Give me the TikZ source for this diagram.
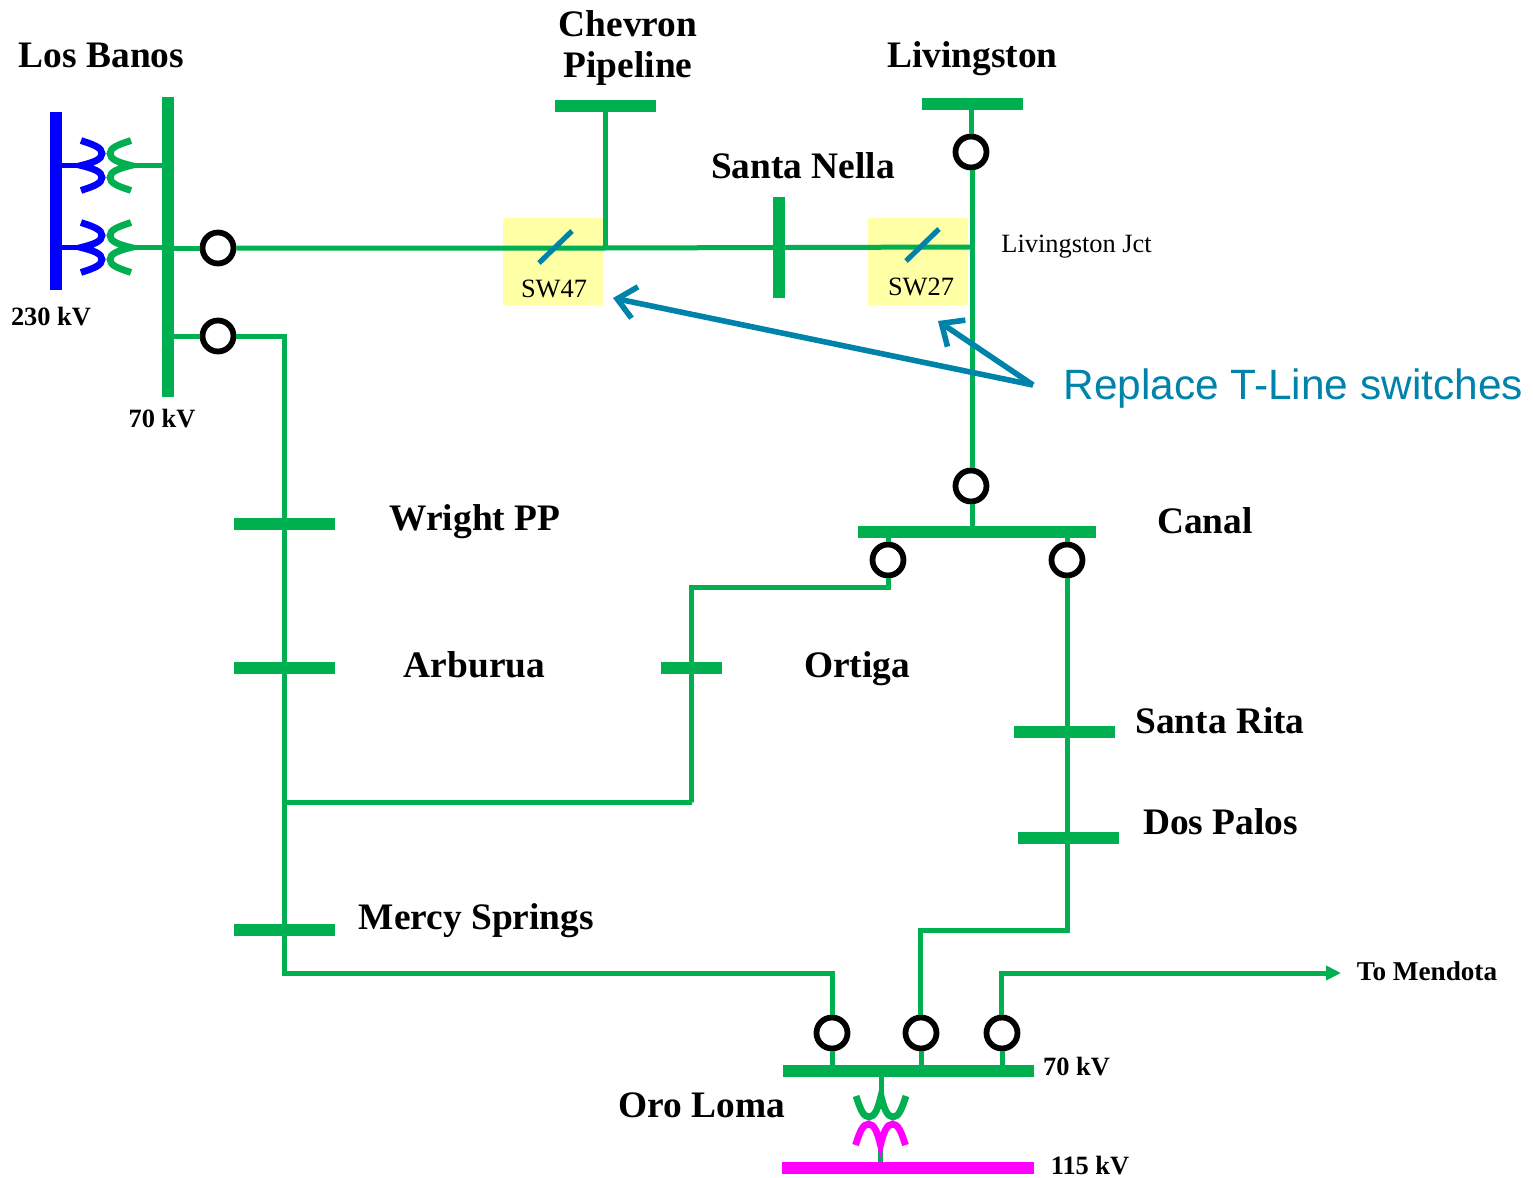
\documentclass[tikz,border=0pt]{standalone}
\usepackage{fontspec}
\setmainfont{Liberation Serif}
\newfontfamily\repfont{Liberation Sans}
\usetikzlibrary{arrows.meta}
\definecolor{gr}{HTML}{00B050}
\definecolor{bl}{HTML}{0000FF}
\definecolor{mg}{HTML}{FF00FF}
\definecolor{yl}{HTML}{FFFFA5}
\definecolor{tl}{HTML}{0083AB}
\tikzset{
  busbar/.style={fill=#1,inner sep=0pt,outer sep=0pt},
  hbus/.style={busbar=gr,minimum width=50.5pt,minimum height=6pt},
  vbus/.style={busbar=#1,minimum width=6pt},
  swc/.style={circle,draw=black,fill=white,line width=2.9pt,minimum size=15.5pt,inner sep=0pt},
  conn/.style={draw=gr,line width=2.5pt,line join=miter},
  place/.style={font=\fontsize{18.7pt}{20.5pt}\selectfont\bfseries,align=center,inner sep=0pt},
  volt/.style={font=\fontsize{13.2pt}{15pt}\selectfont\bfseries,inner sep=0pt},
  small/.style={font=\fontsize{13.2pt}{15pt}\selectfont,inner sep=0pt},
  yellowbox/.style={fill=yl,inner sep=0pt,minimum width=50pt,minimum height=43.5pt},
  slash/.style={draw=tl,line width=2.6pt},
  callout/.style={draw=tl,line width=2.8pt,-{Straight Barb[length=9pt,width=16pt,line width=2.8pt]}},
  winding/.pic={
    \draw[line width=3.4pt] (-21,-25) .. controls (-9,-21) and (0,-18) .. (0,-12)
      .. controls (0,-6) and (-9,-3) .. (-21,0)
      .. controls (-9,3) and (0,6) .. (0,12)
      .. controls (0,18) and (-9,21) .. (-21,25);
  }
}
\begin{document}
\begin{tikzpicture}[x=0.5pt,y=-0.5pt]
\useasboundingbox (0,0) rectangle (1533,1178);
% highlight boxes
\node[yellowbox] (y47) at (553,261.5) {};
\node[yellowbox] (y27) at (918,261.5) {};
% buses
\node[vbus=bl,minimum height=89pt] (b230) at (56,201) {};
\node[vbus=gr,minimum height=150pt] (b70) at (168,247) {};
\node[hbus] (chev) at (605.5,106) {};
\node[hbus] (liv) at (972,104) {};
\node[vbus=gr,minimum height=50.5pt] (nella) at (779,247.5) {};
\node[hbus,minimum width=119pt] (canal) at (977,532) {};
\node[hbus] (wright) at (284.5,524) {};
\node[hbus] (arb) at (284.5,668) {};
\node[hbus] (mercy) at (284.5,930) {};
\node[hbus,minimum width=30.5pt] (ortiga) at (691.5,668) {};
\node[hbus] (rita) at (1064.5,732) {};
\node[hbus] (dos) at (1068.5,838) {};
\node[hbus,minimum width=125.5pt] (oro) at (908.5,1071) {};
\node[busbar=mg,minimum width=126pt,minimum height=6pt] (b115) at (908,1168) {};
% switches
\node[swc] (c1) at (218,248) {};
\node[swc] (c2) at (218,336) {};
\node[swc] (c3) at (971,152) {};
\node[swc] (c4) at (971,486) {};
\node[swc] (c5) at (888,560) {};
\node[swc] (c6) at (1067,560) {};
\node[swc] (c7) at (832,1033) {};
\node[swc] (c8) at (921,1033) {};
\node[swc] (c9) at (1002,1033) {};
% junctions
\coordinate (jchev) at (605,248);
\coordinate (jliv) at (972,247);
\coordinate (jlb) at (284,336);
\coordinate (jort) at (691,587);
\coordinate (jmid) at (692,802);
\coordinate (jmidl) at (284,802);
\coordinate (jbot) at (284,973);
\coordinate (jbotr) at (832,973);
\coordinate (jr) at (1067,930);
\coordinate (jrl) at (920,930);
\coordinate (jm) at (1001,973);
\coordinate (mend) at (1341,973);
% Los Banos transformers
\coordinate (tb1) at (84,165.5);
\coordinate (tg1) at (130,165.5);
\coordinate (tb2) at (84,247.5);
\coordinate (tg2) at (130,247.5);
\draw[draw=bl,line width=2.8pt] (b230.east |- tb1) -- (tb1);
\draw[draw=bl,line width=2.8pt] (b230.east |- tb2) -- (tb2);
\draw[conn,line width=2.8pt] (tg1) -- (b70.west |- tg1);
\draw[conn,line width=2.8pt] (tg2) -- (b70.west |- tg2);
\pic[color=bl] at (102,165.5) {winding};
\pic[color=bl] at (102,247.5) {winding};
\pic[color=gr,xscale=-1] at (110,165.5) {winding};
\pic[color=gr,xscale=-1] at (110,247.5) {winding};
% Oro Loma transformer
\coordinate (tg3) at (881,1100);
\coordinate (tm3) at (880,1145);
\draw[conn] (oro.south -| tg3) -- (tg3);
\draw[conn] (tm3) -- (b115.north -| tm3);
\pic[color=gr,rotate=-90] at (881,1117) {winding};
\pic[color=mg,rotate=90] at (880.5,1124) {winding};
% connectors
\draw[conn] (b70.east |- c1) -- (c1);
\draw[conn] (b70.east |- c2) -- (c2);
\draw[conn] (c1) -- (jchev) -- (jliv);
\draw[conn] (chev.south -| jchev) -- (jchev);
\draw[conn] (liv.south -| c3) -- (c3);
\draw[conn] ([xshift=0.5pt]c3.south) -- (jliv) -- ([xshift=0.5pt]c4.north);
\draw[conn] ([xshift=0.5pt]c4.south) -- ([xshift=0.5pt]c4.south |- canal.north);
\draw[conn] (canal.south -| c5) -- (c5);
\draw[conn] (canal.south -| c6) -- (c6);
\draw[conn] (c5) -- (c5 |- jort) -- (jort) -- (jort |- jmid) -- (jmid) -- (jmidl);
\draw[conn] (c2) -- (jlb) -- (jmidl) -- (jbot) -- (jbotr) -- (c7);
\draw[conn] (c6) -- (jr) -- (jrl) -- (jrl |- c8.north);
\draw[conn,-{Triangle[length=7.5pt,width=7pt]}] (c9.north -| jm) -- (jm) -- (mend);
\draw[conn] (c7) -- (c7 |- oro.north);
\draw[conn] (c8) -- (c8 |- oro.north);
\draw[conn] (c9) -- (c9 |- oro.north);
% switch symbols
\coordinate (s47a) at (539,263); \coordinate (s47b) at (572,231);
\coordinate (s27a) at (906,261); \coordinate (s27b) at (939,229);
\draw[slash] (s47a) -- (s47b);
\draw[slash] (s27a) -- (s27b);
% callouts
\coordinate (rep) at (1033,385);
\coordinate (t47) at (613,298);
\coordinate (t27) at (938,321);
\draw[callout] (rep) -- (t47);
\draw[callout] (rep) -- (t27);
% labels
\node[place] (lLB) at (101.5,55) {Los Banos};
\node[place] (lCh) at (628,48) {Chevron\\Pipeline};
\node[place] (lLi) at (972.5,59) {Livingston};
\node[place] (lSN) at (803,166) {Santa Nella};
\node[small,anchor=west] (lJct) at (1001,247) {Livingston Jct};
\node[small] (l47) at (554,289) {SW47};
\node[small] (l27) at (921,287) {SW27};
\node[volt] (l230) at (51,317) {230 kV};
\node[volt] (l70a) at (162,419) {70 kV};
\node[anchor=west,inner sep=0pt,text=tl,font=\repfont\fontsize{21.2pt}{24pt}\selectfont] (lRep) at (1063,389) {Replace T-Line switches};
\node[place] (lWr) at (475,522) {Wright PP};
\node[place] (lAr) at (474.5,665) {Arburua};
\node[place] (lOr) at (857,669) {Ortiga};
\node[place] (lCa) at (1205,521) {Canal};
\node[place] (lRi) at (1220,721) {Santa Rita};
\node[place] (lDo) at (1220.5,822) {Dos Palos};
\node[place] (lMe) at (476.5,921) {Mercy Springs};
\node[volt,font=\fontsize{13.6pt}{15pt}\selectfont\bfseries] (lTo) at (1427,971) {To Mendota};
\node[volt] (l70b) at (1076.5,1067) {70 kV};
\node[place] (lOL) at (702,1105) {Oro Loma};
\node[volt] (l115) at (1090,1166) {115 kV};
\end{tikzpicture}
\end{document}
